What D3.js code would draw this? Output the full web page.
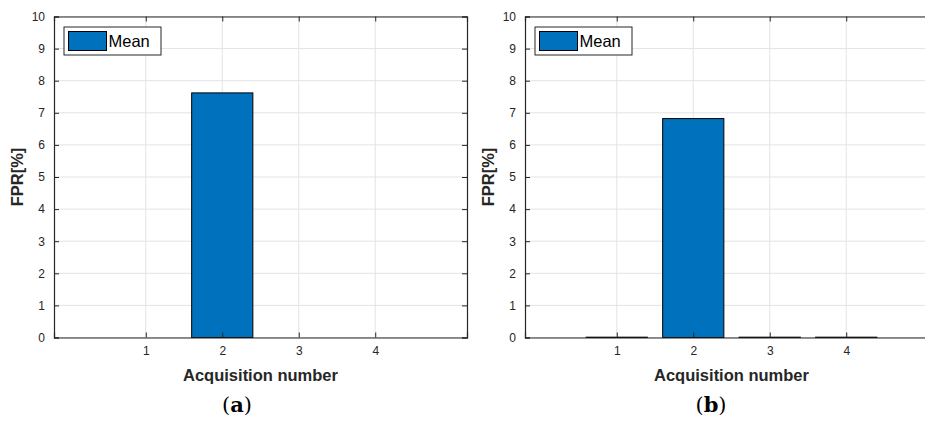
<!DOCTYPE html>
<html>
<head>
<meta charset="utf-8">
<script src="https://cdn.jsdelivr.net/npm/d3@7"></script>
<style>
  html, body { margin: 0; padding: 0; background: #fff; overflow: hidden; width: 925px; height: 425px; }
  svg { display: block; overflow: hidden; }
</style>
</head>
<body>
<svg id="chart" width="925" height="425" viewBox="0 0 925 425"></svg>
<script>
// Acquisition numbers on the x axis
const acquisitions = [1, 2, 3, 4];
// Mean FPR [%] per acquisition, panel (a) and panel (b)
const meanA = [0, 7.62, 0, 0];
const meanB = [0.01, 6.82, 0.01, 0.01];
const yTicks = [0, 1, 2, 3, 4, 5, 6, 7, 8, 9, 10];
const panelLabels = ["a", "b"];
const seriesName = "Mean";

const svg = d3.select("#chart");
const FONT = "'Liberation Sans', Arial, Helvetica, sans-serif";
const AXIS = "#262626";
const GRID = "#e3e3e3";
const BAR = "#0072bd";

const panels = [
  { left: 54, values: meanA, label: panelLabels[0], labelX: 237 },
  { left: 525, values: meanB, label: panelLabels[1], labelX: 711 }
];

const plotTop = 16.5, plotBottom = 337.5, plotW = 413;

// clip everything to the drawing area
svg.append("defs").append("clipPath").attr("id", "page")
  .append("rect").attr("width", 925).attr("height", 425);
const root = svg.append("g").attr("clip-path", "url(#page)");

panels.forEach(p => {
  const g = root.append("g");
  const x = d3.scaleLinear().domain([-0.2, 5.2]).range([p.left, p.left + plotW]);
  const y = d3.scaleLinear().domain([0, 10]).range([plotBottom, plotTop]);

  // grid
  g.selectAll(".gy").data(yTicks).join("line")
    .attr("x1", x(-0.2)).attr("x2", x(5.2))
    .attr("y1", d => y(d)).attr("y2", d => y(d))
    .attr("stroke", GRID).attr("stroke-width", 1);
  g.selectAll(".gx").data(acquisitions).join("line")
    .attr("x1", d => x(d)).attr("x2", d => x(d))
    .attr("y1", plotTop).attr("y2", plotBottom)
    .attr("stroke", GRID).attr("stroke-width", 1);

  // bars
  g.selectAll(".bar").data(p.values.map((v, i) => ({ a: acquisitions[i], v })))
    .join("rect")
    .attr("x", d => x(d.a - 0.4))
    .attr("width", d => x(d.a + 0.4) - x(d.a - 0.4))
    .attr("y", d => y(d.v))
    .attr("height", d => y(0) - y(d.v))
    .attr("fill", BAR)
    .attr("stroke", "#000").attr("stroke-width", 1);

  // axes (ticks inward, boxed)
  const fmt = d3.format("d");
  const xAxisB = d3.axisBottom(x).tickValues(acquisitions).tickFormat(fmt).tickSize(-5).tickPadding(9);
  const xAxisT = d3.axisTop(x).tickValues(acquisitions).tickSize(-5).tickFormat("");
  const yAxisL = d3.axisLeft(y).tickValues(yTicks).tickFormat(fmt).tickSize(-5).tickPadding(9);
  const yAxisR = d3.axisRight(y).tickValues(yTicks).tickSize(-5).tickFormat("");

  const ax = [
    g.append("g").attr("transform", `translate(0,${plotBottom})`).call(xAxisB),
    g.append("g").attr("transform", `translate(0,${plotTop})`).call(xAxisT),
    g.append("g").attr("transform", `translate(${p.left},0)`).call(yAxisL),
    g.append("g").attr("transform", `translate(${p.left + plotW},0)`).call(yAxisR)
  ];
  ax.forEach(a => {
    a.attr("font-family", FONT).attr("font-size", 12);
    a.selectAll("path").attr("stroke", AXIS).attr("stroke-width", 1.2);
    a.selectAll("line").attr("stroke", AXIS);
    a.selectAll("text").attr("fill", AXIS);
  });

  // axis titles
  g.append("text")
    .attr("x", x(2.5)).attr("y", 381)
    .attr("text-anchor", "middle")
    .attr("font-family", FONT).attr("font-size", 16.5).attr("font-weight", "bold")
    .attr("fill", AXIS)
    .text("Acquisition number");
  g.append("text")
    .attr("transform", `translate(${p.left - 31},${(plotTop + plotBottom) / 2}) rotate(-90)`)
    .attr("text-anchor", "middle")
    .attr("font-family", FONT).attr("font-size", 16.5).attr("font-weight", "bold")
    .attr("fill", AXIS)
    .text("FPR[%]");

  // legend
  const lg = g.append("g").attr("transform", `translate(${p.left + 10},${plotTop + 10.5})`);
  lg.append("rect").attr("width", 97).attr("height", 28)
    .attr("fill", "#fff").attr("stroke", AXIS).attr("stroke-width", 1);
  lg.append("rect").attr("x", 4.5).attr("y", 4.5).attr("width", 38).attr("height", 19)
    .attr("fill", BAR).attr("stroke", "#000").attr("stroke-width", 1);
  lg.append("text").attr("x", 44.5).attr("y", 20)
    .attr("font-family", FONT).attr("font-size", 16.5)
    .attr("fill", "#000").text(seriesName);

  // panel caption
  const cap = g.append("text")
    .attr("x", p.labelX).attr("y", 412)
    .attr("text-anchor", "middle")
    .attr("font-family", "'DejaVu Serif', 'Liberation Serif', serif").attr("font-size", 21)
    .attr("fill", "#000");
  cap.append("tspan").text("(");
  cap.append("tspan").attr("font-weight", "bold").text(p.label);
  cap.append("tspan").text(")");
});
</script>
</body>
</html>
